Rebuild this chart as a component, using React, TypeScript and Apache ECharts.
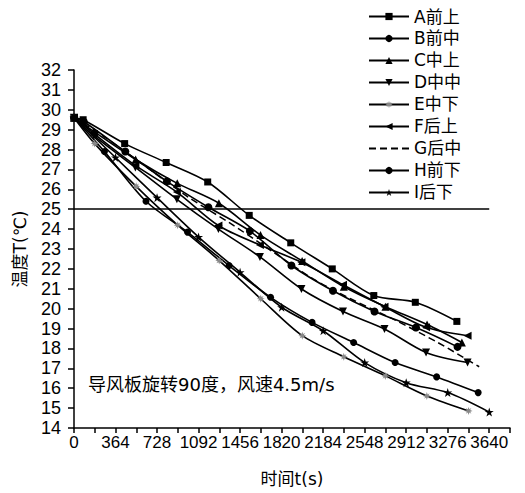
import React, { useEffect, useRef } from "react";
import * as echarts from "echarts";

const FONT = "DejaVu Sans, Noto Sans CJK SC, sans-serif";
const NUM_FONT = "Liberation Sans, Arial, sans-serif";

const seriesNames = ["A前上", "B前中", "C中上", "D中中", "E中下", "F后上", "G后中", "H前下", "I后下"];

const A_t = [0, 80, 444, 808, 1172, 1536, 1900, 2264, 2628, 2992, 3356];
const A_T = [29.6, 29.5, 28.3, 27.35, 26.37, 24.69, 23.31, 22.0, 20.66, 20.32, 19.36];
const B_t = [0, 86, 450, 814, 1178, 1542, 1906, 2270, 2634, 2998, 3362];
const B_T = [29.6, 29.4, 27.9, 26.4, 25.1, 23.9, 22.17, 20.9, 19.86, 19.05, 18.08];
const C_t = [0, 175, 540, 905, 1270, 1635, 2000, 2365, 2730, 3095, 3400];
const C_T = [29.6, 28.9, 27.5, 26.3, 25.3, 23.7, 22.4, 21.1, 20.1, 19.2, 18.3];
const D_t = [0, 174, 538, 902, 1266, 1630, 1994, 2358, 2722, 3086, 3450];
const D_T = [29.6, 28.7, 27.1, 25.5, 24.0, 22.6, 20.99, 19.86, 18.98, 17.8, 17.29];
const E_t = [0, 181, 545, 909, 1273, 1637, 2001, 2365, 2729, 3093, 3459];
const E_T = [29.6, 28.3, 26.15, 24.2, 22.42, 20.5, 18.64, 17.58, 16.62, 15.61, 14.86];
const F_t = [0, 174, 538, 902, 1266, 1630, 1994, 2358, 2722, 3086, 3450];
const F_T = [29.6, 28.8, 27.2, 25.86, 24.18, 23.2, 22.33, 21.2, 20.1, 19.06, 18.64];
const G_t = [0, 276, 640, 1004, 1368, 1732, 2096, 2460, 2824, 3188, 3552];
const G_T = [29.6, 28.6, 27.1, 25.6, 24.3, 22.9, 21.5, 20.4, 19.4, 18.3, 17.08];
const H_t = [0, 267, 631, 995, 1359, 1723, 2087, 2451, 2815, 3179, 3543];
const H_T = [29.6, 27.9, 25.4, 23.85, 22.17, 20.57, 19.31, 18.3, 17.29, 16.57, 15.78];
const I_t = [0, 364, 728, 1092, 1456, 1820, 2184, 2548, 2912, 3276, 3640];
const I_T = [29.6, 27.6, 25.58, 23.6, 21.83, 20.07, 18.89, 17.29, 16.28, 15.78, 14.8];

const xTickLabels = [0, 364, 728, 1092, 1456, 1820, 2184, 2548, 2912, 3276, 3640];
const referenceTemp = 25;
const annotation = "导风板旋转90度，风速4.5m/s";

const times = [A_t, B_t, C_t, D_t, E_t, F_t, G_t, H_t, I_t];
const temps = [A_T, B_T, C_T, D_T, E_T, F_T, G_T, H_T, I_T];

const STAR = "path://M5,0 L6.2,3.8 L10,3.8 L6.9,6.1 L8.1,10 L5,7.6 L1.9,10 L3.1,6.1 L0,3.8 L3.8,3.8 Z";
const FLOWER = "path://M5,0 L6,3 L8.5,1.5 L7,4 L10,5 L7,6 L8.5,8.5 L6,7 L5,10 L4,7 L1.5,8.5 L3,6 L0,5 L3,4 L1.5,1.5 L4,3 Z";
const TRI_DOWN = "path://M0,0 L10,0 L5,9 Z";
const TRI_LEFT = "path://M0,5 L9,0 L9,10 Z";

const symbols = ["rect", "circle", "triangle", TRI_DOWN, FLOWER, TRI_LEFT, "none", "circle", STAR];
const sizes = [7, 8, 8, 8, 8, 8, 0, 7, 9];

export default function App() {
  const ref = useRef<HTMLDivElement>(null);
  useEffect(() => {
    if (!ref.current) return;
    const chart = echarts.init(ref.current, undefined, { renderer: "svg" });
    const series: any[] = seriesNames.map((name, i) => {
      const isE = i === 4;
      const isG = i === 6;
      const s: any = {
        name,
        type: "line",
        data: times[i].map((t, k) => [t, temps[i][k]]),
        symbol: symbols[i],
        symbolSize: sizes[i],
        smooth: 0.3,
        showSymbol: !isG,
        lineStyle: { color: "#000", width: isG ? 1.5 : 1.6, type: isG ? [7, 4] : "solid" },
        itemStyle: { color: isE ? "#888" : isG ? "rgba(0,0,0,0)" : "#000" },
        z: 3,
      };
      if (i === 0) {
        s.markLine = {
          symbol: "none",
          silent: true,
          label: { show: false },
          lineStyle: { color: "#000", width: 1.5, type: "solid" },
          data: [[{ coord: [0, referenceTemp] }, { coord: [3640, referenceTemp] }]],
        };
      }
      return s;
    });
    chart.setOption({
      animation: false,
      textStyle: { fontFamily: FONT, color: "#000" },
      grid: { left: 74, right: 15, top: 70, bottom: 65, containLabel: false },
      legend: {
        orient: "vertical",
        left: 363,
        top: 3,
        itemWidth: 40,
        itemHeight: 9,
        itemGap: 5,
        textStyle: { fontFamily: FONT, fontSize: 17, color: "#000" },
        data: seriesNames,
      },
      xAxis: {
        type: "value",
        min: 0,
        max: 3822,
        interval: 182,
        name: "时间t(s)",
        nameLocation: "middle",
        nameGap: 42,
        nameTextStyle: { fontFamily: FONT, fontSize: 17, color: "#000" },
        axisLine: { show: true, lineStyle: { color: "#000", width: 1.5 } },
        axisTick: { show: true, length: 5, lineStyle: { color: "#000", width: 1.5 } },
        axisLabel: {
          fontFamily: NUM_FONT,
          fontSize: 17,
          color: "#000",
          margin: 6,
          formatter: (v: number) => (xTickLabels.indexOf(v) >= 0 ? String(v) : ""),
        },
        splitLine: { show: false },
      },
      yAxis: {
        type: "value",
        min: 14,
        max: 32,
        interval: 1,
        name: "温度T(℃)",
        nameLocation: "middle",
        nameGap: 46,
        nameRotate: 90,
        nameTextStyle: { fontFamily: FONT, fontSize: 17, color: "#000" },
        axisLine: { show: true, lineStyle: { color: "#000", width: 1.5 } },
        axisTick: { show: true, length: 6, lineStyle: { color: "#000", width: 1.5 } },
        axisLabel: { fontFamily: NUM_FONT, fontSize: 18, color: "#000", margin: 13 },
        splitLine: { show: false },
      },
      graphic: [
        {
          type: "text",
          left: 88,
          top: 375,
          style: { text: annotation, fontFamily: FONT, fontSize: 18, fill: "#000" },
        },
      ],
      series,
    });
    return () => chart.dispose();
  }, []);
  return (
    <div
      ref={ref}
      style={{ position: "fixed", left: 0, top: 0, width: 525, height: 493, background: "#fff" }}
    />
  );
}
